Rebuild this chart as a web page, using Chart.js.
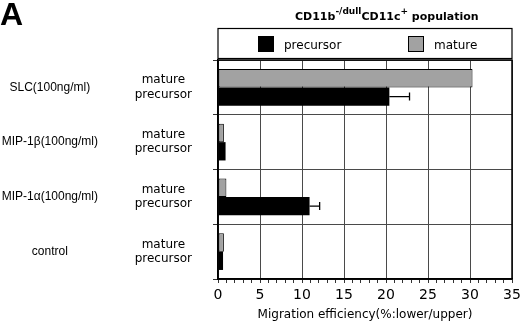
<!DOCTYPE html>
<html>
<head>
<meta charset="utf-8">
<script src="https://cdn.jsdelivr.net/npm/chart.js@4.4.1/dist/chart.umd.min.js"></script>
<style>
  html, body { margin: 0; padding: 0; background: #fff; }
</style>
</head>
<body>
<canvas id="migrationChart" width="520" height="325"></canvas>
<script>
const groups = ["SLC(100ng/ml)", "MIP-1β(100ng/ml)", "MIP-1α(100ng/ml)", "control"];
const stages = ["mature", "precursor"];
const matureValues = [30.3, 0.7, 1.0, 0.7];
const precursorValues = [20.4, 0.9, 10.9, 0.6];
const precursorErrors = [2.4, 0, 1.2, 0];
const xTicks = [0, 5, 10, 15, 20, 25, 30, 35];

Chart.defaults.font.family = "'DejaVu Sans', sans-serif";
Chart.defaults.color = '#000';

// one-sided error bars on the precursor bars
const errorBars = {
    id: 'errorBars',
    afterDatasetsDraw(chart) {
        const meta = chart.getDatasetMeta(1);
        const x = chart.scales.x;
        const c = chart.ctx;
        c.save();
        c.strokeStyle = '#000';
        c.lineWidth = 1.3;
        meta.data.forEach((bar, i) => {
            const err = precursorErrors[i];
            if (!err) return;
            const xEnd = x.getPixelForValue(precursorValues[i] + err);
            c.beginPath();
            c.moveTo(bar.x, bar.y);
            c.lineTo(xEnd, bar.y);
            c.moveTo(xEnd, bar.y - 4);
            c.lineTo(xEnd, bar.y + 4);
            c.stroke();
        });
        c.restore();
    }
};

// frame, boxed legend, title and panel letter
const decorations = {
    id: 'decorations',
    afterDraw(chart) {
        const c = chart.ctx;
        const a = chart.chartArea;
        c.save();
        c.strokeStyle = '#000';
        c.lineWidth = 1.5;
        c.strokeRect(a.left, a.top, a.right - a.left, a.bottom - a.top);

        // legend box
        c.lineWidth = 1.2;
        c.strokeRect(a.left, 28.5, a.right - a.left, 30);
        const items = [chart.data.datasets[1], chart.data.datasets[0]];
        const offsets = [40, 190];
        c.font = "12px 'DejaVu Sans'";
        c.textBaseline = 'alphabetic';
        items.forEach((ds, i) => {
            const bx = a.left + offsets[i];
            c.fillStyle = ds.backgroundColor;
            c.fillRect(bx, 36, 16, 16);
            c.lineWidth = 1;
            c.strokeRect(bx + 0.5, 36.5, 15, 15);
            c.fillStyle = '#000';
            c.fillText(ds.label, bx + 26, 49);
        });

        // title with superscripts
        const parts = [
            ["CD11b", false], ["-/dull", true], ["CD11c", false], ["+", true], [" population", false]
        ];
        let tx = 295;
        parts.forEach(([txt, sup]) => {
            c.font = sup ? "bold 9px 'DejaVu Sans'" : "bold 11px 'DejaVu Sans'";
            c.fillText(txt, tx, sup ? 14 : 20);
            tx += c.measureText(txt).width;
        });

        c.font = "bold 32px 'Liberation Sans'";
        c.fillText("A", 0, 25);
        c.restore();
    }
};

const ctx = document.getElementById("migrationChart").getContext('2d');

const data = {
    labels: groups,
    datasets: [
        {
            label: stages[0],
            data: matureValues,
            backgroundColor: '#a2a2a2',
            borderColor: '#000',
            borderWidth: 1,
            borderSkipped: false,
            categoryPercentage: 0.67,
            barPercentage: 1
        },
        {
            label: stages[1],
            data: precursorValues,
            backgroundColor: '#000',
            borderColor: '#000',
            borderWidth: 0,
            categoryPercentage: 0.67,
            barPercentage: 1
        }
    ]
};

const config = {
    type: 'bar',
    data: data,
    options: {
        indexAxis: 'y',
        responsive: false,
        animation: false,
        layout: {
            padding: { top: 60, right: 0, left: 0, bottom: 0 }
        },
        plugins: {
            legend: { display: false },
            tooltip: { enabled: false }
        },
        scales: {
            x: {
                min: xTicks[0],
                max: xTicks[xTicks.length - 1],
                ticks: {
                    stepSize: 1,
                    autoSkip: false,
                    maxRotation: 0,
                    padding: 4,
                    font: { size: 14 },
                    callback: (value) => xTicks.includes(value) ? String(value) : ''
                },
                grid: {
                    color: (c) => (c.tick && c.tick.value % 5 === 0) ? '#4a4a4a' : 'rgba(0,0,0,0)',
                    tickColor: '#333',
                    tickLength: 4,
                    lineWidth: 1
                },
                border: { color: '#000', width: 1.5 },
                title: {
                    display: true,
                    text: 'Migration efficiency(%:lower/upper)',
                    font: { size: 12 },
                    padding: { top: 2, bottom: 3 }
                },
                afterFit: (scale) => {
                    scale.height = 46;
                    scale.paddingRight = 8;
                }
            },
            y: {
                weight: 0,
                offset: true,
                ticks: {
                    crossAlign: 'center',
                    padding: 21,
                    font: { size: 12 },
                    callback: () => stages
                },
                grid: {
                    offset: true,
                    color: '#4a4a4a',
                    tickColor: '#333',
                    tickLength: 5
                },
                border: { color: '#000', width: 1.5 },
                afterFit: (scale) => { scale.width = 83; }
            },
            y2: {
                type: 'category',
                axis: 'y',
                position: 'left',
                weight: 1,
                offset: true,
                grid: { display: false, drawTicks: false },
                border: { display: false },
                ticks: {
                    crossAlign: 'center',
                    padding: 37,
                    font: { family: "'Liberation Sans', sans-serif", size: 12 }
                },
                afterFit: (scale) => { scale.width = 135; }
            }
        }
    },
    plugins: [errorBars, decorations]
};

const chart = new Chart(ctx, config);
</script>
</body>
</html>
